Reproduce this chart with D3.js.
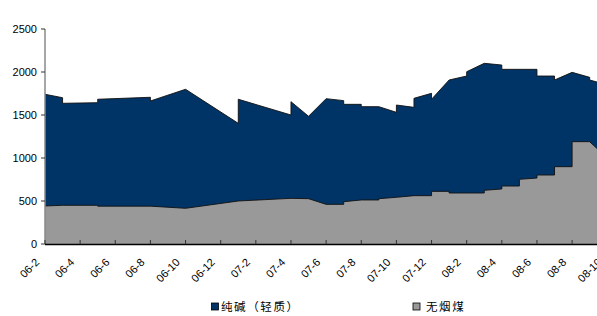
<!DOCTYPE html>
<html><head><meta charset="utf-8">
<script src="https://cdn.jsdelivr.net/npm/d3@7"></script>
<style>body{margin:0;overflow:hidden;background:#fff}svg{display:block}</style>
</head><body>
<script>
// 纯碱（轻质） — month (repeated months give vertical jumps) and value
const sodaDates = ["2006-02","2006-03","2006-03","2006-05","2006-05","2006-08","2006-08","2006-10",
  "2007-01","2007-01","2007-04","2007-04","2007-05","2007-06","2007-07","2007-07","2007-08","2007-08",
  "2007-09","2007-10","2007-10","2007-11","2007-11","2007-12","2007-12","2008-01","2008-02","2008-02",
  "2008-03","2008-04","2008-04","2008-06","2008-06","2008-07","2008-07","2008-08","2008-09","2008-09","2008-10"];
const sodaValues = [1741,1701,1636,1643,1683,1706,1663,1799,
  1403,1683,1500,1655,1485,1690,1667,1624,1624,1597,
  1597,1531,1616,1589,1694,1752,1683,1907,1953,2003,
  2101,2081,2031,2031,1953,1953,1907,1996,1938,1907,1850];
// 无烟煤
const coalDates = ["2006-02","2006-03","2006-05","2006-05","2006-08","2006-10","2007-01","2007-04","2007-05",
  "2007-06","2007-07","2007-07","2007-08","2007-09","2007-09","2007-10","2007-11","2007-12","2007-12",
  "2008-01","2008-01","2008-03","2008-03","2008-04","2008-04","2008-05","2008-05","2008-06","2008-06",
  "2008-07","2008-07","2008-08","2008-08","2008-09","2008-10"];
const coalValues = [442,450,450,440,440,415,500,531,527,
  461,461,492,512,512,527,543,562,562,612,
  612,593,593,624,640,674,674,752,767,802,
  802,899,899,1190,1190,1000];
const xTickLabels = ["06-2","06-4","06-6","06-8","06-10","06-12","07-2","07-4","07-6","07-8","07-10","07-12","08-2","08-4","08-6","08-8","08-10"];
const yTicks = [0,500,1000,1500,2000,2500];
const seriesNames = ["纯碱（轻质）","无烟煤"];
const colors = ["#003366","#999999"];

const W = 597, H = 316;
const svg = d3.select("body").append("svg").attr("width", W).attr("height", H);
const monthIdx = s => { const [y,m] = s.split("-").map(Number); return (y-2006)*12 + (m-2); };
const x = d3.scaleLinear().domain([0,30]).range([45, 572.1]);
const y = d3.scaleLinear().domain([0,2500]).range([244, 29]);

const mk = (dates, vals) => dates.map((d,i) => ({m: monthIdx(d), v: vals[i]}));
const series = [mk(sodaDates, sodaValues), mk(coalDates, coalValues)];

const area = d3.area().x(d => x(d.m)).y0(y(0)).y1(d => y(d.v));
const line = d3.line().x(d => x(d.m)).y(d => y(d.v));
series.forEach((s,i) => {
  svg.append("path").datum(s).attr("d", area).attr("fill", colors[i]);
  svg.append("path").datum(s).attr("d", line).attr("fill","none").attr("stroke","#111").attr("stroke-width",0.9);
});

// y axis
svg.append("line").attr("x1",45).attr("x2",45).attr("y1",y(2500)).attr("y2",y(0)).attr("stroke","#888").attr("stroke-width",1.5);
yTicks.forEach(t => {
  svg.append("line").attr("x1",41).attr("x2",45).attr("y1",y(t)).attr("y2",y(t)).attr("stroke","#333");
  svg.append("text").attr("x",37).attr("y",y(t)).attr("dy","0.35em").attr("text-anchor","end")
    .attr("font-family","Liberation Sans, Arial, sans-serif").attr("font-size",11).attr("fill","#000").text(t);
});
// x axis
svg.append("line").attr("x1",45).attr("x2",W).attr("y1",244.5).attr("y2",244.5).attr("stroke","#000").attr("stroke-width",1.6);
xTickLabels.forEach((lab,i) => {
  const tx = x(i*2);
  svg.append("line").attr("x1",tx).attr("x2",tx).attr("y1",240).attr("y2",244).attr("stroke","#333");
  svg.append("text").attr("transform",`translate(${tx-5},${263}) rotate(-45)`).attr("text-anchor","end")
    .attr("font-family","Liberation Sans, Arial, sans-serif").attr("font-size",11).attr("fill","#000").text(lab);
});
// legend
const legX = [211.5, 413];
const legTX = [221, 426];
seriesNames.forEach((n,i) => {
  svg.append("rect").attr("x",legX[i]).attr("y",303).attr("width",7).attr("height",7)
    .attr("fill",colors[i]).attr("stroke","#000").attr("stroke-width",0.8);
  svg.append("text").attr("x",legTX[i]).attr("y",307).attr("dy","0.38em")
    .attr("font-family","Noto Sans CJK SC, sans-serif").attr("font-size",11.5).attr("letter-spacing","1.6px")
    .attr("fill","#000").text(n);
});
</script>
</body></html>
